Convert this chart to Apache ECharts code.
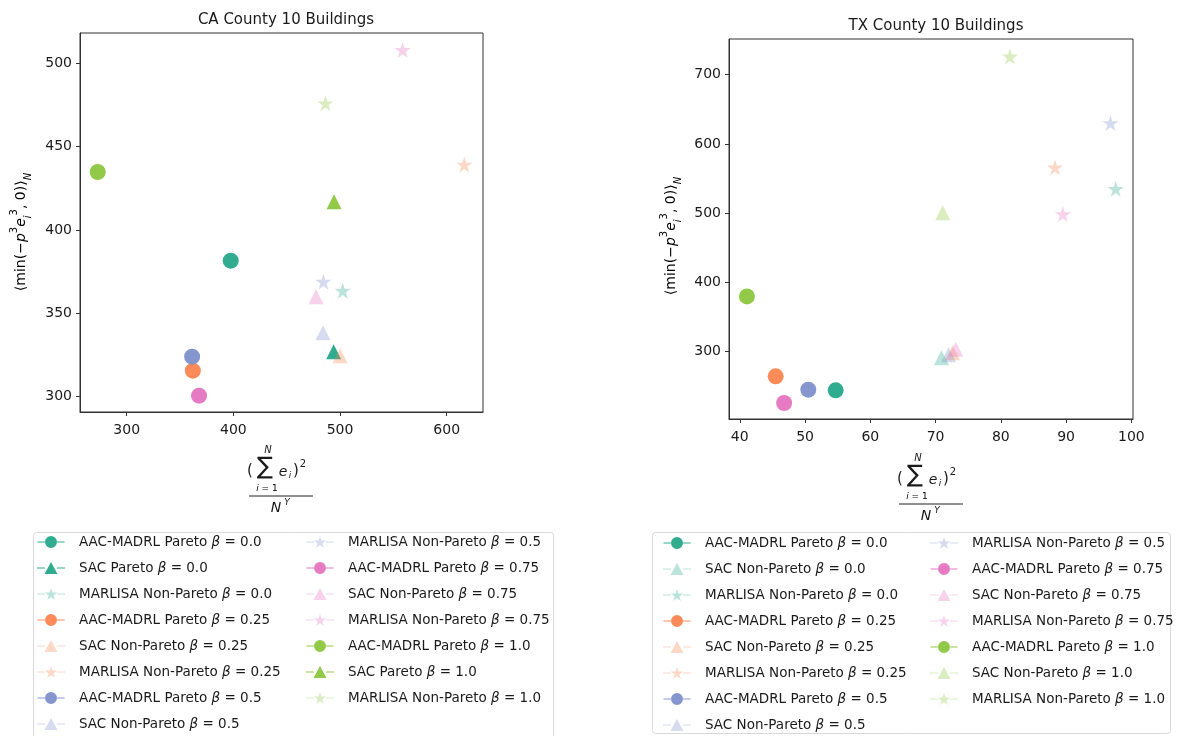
<!DOCTYPE html>
<html><head><meta charset="utf-8">
<script src="https://cdn.jsdelivr.net/npm/echarts@6/dist/echarts.min.js"></script>
<style>html,body{margin:0;padding:0;background:#fff}#c{width:1178px;height:736px}</style>
</head><body><div id="c"></div>
<script>
// ---------------- DATA ----------------
const caNames = [
  'AAC-MADRL Pareto β = 0.0', 'SAC Pareto β = 0.0', 'MARLISA Non-Pareto β = 0.0',
  'AAC-MADRL Pareto β = 0.25', 'SAC Non-Pareto β = 0.25', 'MARLISA Non-Pareto β = 0.25',
  'AAC-MADRL Pareto β = 0.5', 'SAC Non-Pareto β = 0.5', 'MARLISA Non-Pareto β = 0.5',
  'AAC-MADRL Pareto β = 0.75', 'SAC Non-Pareto β = 0.75', 'MARLISA Non-Pareto β = 0.75',
  'AAC-MADRL Pareto β = 1.0', 'SAC Pareto β = 1.0', 'MARLISA Non-Pareto β = 1.0'
];
const caX = [397.5, 494.0, 502.5, 362.0, 500.0, 616.5, 361.3, 484.0, 484.4, 367.8, 477.5, 558.7, 272.8, 494.4, 486.3];
const caY = [381.6, 327.0, 363.6, 315.6, 324.5, 439.2, 324.0, 338.4, 369.0, 300.6, 360.0, 508.0, 434.8, 417.0, 476.0];

const txNames = [
  'AAC-MADRL Pareto β = 0.0', 'SAC Non-Pareto β = 0.0', 'MARLISA Non-Pareto β = 0.0',
  'AAC-MADRL Pareto β = 0.25', 'SAC Non-Pareto β = 0.25', 'MARLISA Non-Pareto β = 0.25',
  'AAC-MADRL Pareto β = 0.5', 'SAC Non-Pareto β = 0.5', 'MARLISA Non-Pareto β = 0.5',
  'AAC-MADRL Pareto β = 0.75', 'SAC Non-Pareto β = 0.75', 'MARLISA Non-Pareto β = 0.75',
  'AAC-MADRL Pareto β = 1.0', 'SAC Non-Pareto β = 1.0', 'MARLISA Non-Pareto β = 1.0'
];
const txX = [54.7, 70.9, 97.6, 45.5, 72.6, 88.3, 50.5, 72.0, 96.8, 46.8, 73.1, 89.5, 41.1, 71.1, 81.4];
const txY = [243.7, 291.0, 535.0, 264.0, 298.0, 566.0, 244.7, 295.0, 630.0, 225.4, 303.0, 498.6, 379.5, 500.5, 726.3];

const caXTicks = [300, 400, 500, 600];
const caYTicks = [300, 350, 400, 450, 500];
const txXTicks = [40, 50, 60, 70, 80, 90, 100];
const txYTicks = [300, 400, 500, 600, 700];

const titles = ['CA County 10 Buildings', 'TX County 10 Buildings'];

// ---------------- STYLE ----------------
const FONT = 'DejaVu Sans';
const TXT = '#1a1a1a';
const betaColors = {'0.0': '#27a88a', '0.25': '#fc8550', '0.5': '#7e90cc', '0.75': '#e574c0', '1.0': '#8cc63e'};

function starPts(cx, cy, R) {
  const r = R * 0.382; let s = '';
  for (let k = 0; k < 10; k++) {
    const a = (-90 + k * 36) * Math.PI / 180, rr = k % 2 ? r : R;
    s += (k ? 'L' : 'M') + (cx + rr * Math.cos(a)).toFixed(3) + ',' + (cy + rr * Math.sin(a)).toFixed(3);
  }
  return s + 'Z';
}
const starSym = 'path://' + starPts(10, 10, 10);
const lineSeg = 'M0,5.5H8V6.5H0Z M20,5.5H28V6.5H20Z ';
const iconCircle = 'path://' + lineSeg + 'M7.8,6A6.2,6.2 0 1 0 20.2,6A6.2,6.2 0 1 0 7.8,6Z';
const iconTri = 'path://' + lineSeg + 'M14,0L20.5,12L7.5,12Z';
const iconStar = 'path://' + lineSeg + starPts(14, 6.5, 6.5);

function styleFor(name) {
  const algo = name.split(' ')[0];
  const beta = name.match(/β = ([\d.]+)/)[1];
  const np = name.indexOf('Non-Pareto') >= 0;
  return {
    color: betaColors[beta],
    opacity: np ? 0.32 : 0.95,
    symbol: algo === 'AAC-MADRL' ? 'circle' : (algo === 'SAC' ? 'triangle' : starSym),
    size: algo === 'AAC-MADRL' ? 16 : (algo === 'SAC' ? 15 : 16),
    icon: algo === 'AAC-MADRL' ? iconCircle : (algo === 'SAC' ? iconTri : iconStar)
  };
}

const series = [];
function addSeries(names, xs, ys, idx) {
  names.forEach((n, i) => {
    const st = styleFor(n);
    series.push({
      type: 'scatter', name: n, xAxisIndex: idx, yAxisIndex: idx,
      data: [[xs[i], ys[i]]], symbol: st.symbol, symbolSize: st.size,
      itemStyle: {color: st.color, opacity: st.opacity}, z: 2 + i * 0.01,
      emphasis: {disabled: true}
    });
  });
}
addSeries(caNames, caX, caY, 0);
addSeries(txNames, txX, txY, 1);

function legendCol(names, left, top) {
  return {
    orient: 'vertical', left: left, top: top, itemWidth: 28, itemHeight: 12, itemGap: 12,
    selectedMode: false, padding: 0,
    data: names.map(n => { const st = styleFor(n); return {name: n, icon: st.icon, itemStyle: {color: st.color, opacity: st.opacity}}; }),
    formatter: n => n.replace('β', '{b|β}'),
    textStyle: {fontFamily: FONT, fontSize: 13.5, color: TXT, lineHeight: 14, padding: [0, 0, 0, 9],
      rich: {b: {fontFamily: FONT, fontStyle: 'italic', fontSize: 13.5, color: TXT}}}
  };
}

const axisCommon = {
  axisLine: {show: true, onZero: false, lineStyle: {color: '#333', width: 1}},
  axisTick: {show: true, length: 4, lineStyle: {color: '#333'}},
  axisLabel: {fontFamily: FONT, fontSize: 14, color: TXT, margin: 8},
  splitLine: {show: false}
};
function ax(idx, min, max, ticks, margin) {
  return Object.assign({}, axisCommon, {type: 'value', gridIndex: idx, min: min, max: max,
    axisTick: Object.assign({}, axisCommon.axisTick, {customValues: ticks}),
    axisLabel: Object.assign({}, axisCommon.axisLabel, {customValues: ticks, margin: margin})});
}

const rich = {
  n: {fontFamily: FONT, fontSize: 14, color: TXT, lineHeight: 24, verticalAlign: 'middle'},
  i: {fontFamily: FONT, fontSize: 14, fontStyle: 'italic', color: TXT, lineHeight: 24, verticalAlign: 'middle'},
  sp: {fontFamily: FONT, fontSize: 10, color: TXT, lineHeight: 14, verticalAlign: 'top'},
  sb: {fontFamily: FONT, fontSize: 10, fontStyle: 'italic', color: TXT, lineHeight: 11, verticalAlign: 'bottom'}
};
const yLabelText = '{n|⟨min(−}{i|p}{sp|3}{i|e}{sb|i}{sp|3}{n|, 0)⟩}{sb|N}';

function t(x, y, text, size, italic) {
  return {type: 'text', x: x, y: y, silent: true,
    style: {text: text, fontFamily: FONT, fontSize: size, fontStyle: italic ? 'italic' : 'normal', fill: TXT, align: 'center', verticalAlign: 'middle'}};
}
function frac(cx, ly) {
  return [
    t(cx - 13, ly - 46, 'N', 10, true),
    t(cx - 31, ly - 25, '(', 15, false),
    t(cx - 16, ly - 28, '∑', 24, false),
    t(cx + 2, ly - 24, 'e', 14, true),
    t(cx + 9, ly - 20, 'i', 9, true),
    t(cx + 15, ly - 25, ')', 15, false),
    t(cx + 22, ly - 32, '2', 10, false),
    {type: 'text', x: cx - 14, y: ly - 7, silent: true, style: {text: '{a|i}{c| = 1}', align: 'center', verticalAlign: 'middle',
      rich: {a: {fontFamily: FONT, fontSize: 9, fontStyle: 'italic', color: TXT}, c: {fontFamily: FONT, fontSize: 9, color: TXT}}}},
    {type: 'line', silent: true, shape: {x1: cx - 32, y1: ly, x2: cx + 32, y2: ly}, style: {stroke: '#222', lineWidth: 1}},
    t(cx - 5, ly + 12, 'N', 14, true),
    t(cx + 6, ly + 7, 'Y', 9, true)
  ];
}

const graphic = [
  {type: 'rect', silent: true, shape: {x: 33.5, y: 532.5, width: 520, height: 230, r: 3}, style: {fill: '#fff', stroke: '#d9d9d9', lineWidth: 1}, z: -1},
  {type: 'rect', silent: true, shape: {x: 652.5, y: 532.5, width: 518, height: 201, r: 3}, style: {fill: '#fff', stroke: '#d9d9d9', lineWidth: 1}, z: -1},
  {type: 'text', x: 21, y: 232, rotation: Math.PI / 2, silent: true, style: {text: yLabelText, rich: rich, align: 'center', verticalAlign: 'middle'}},
  {type: 'text', x: 671, y: 236, rotation: Math.PI / 2, silent: true, style: {text: yLabelText, rich: rich, align: 'center', verticalAlign: 'middle'}}
].concat(frac(281, 496), frac(931, 504));

const option = {
  backgroundColor: '#fff',
  animation: false,
  title: [
    {text: titles[0], left: 281, top: 8, textAlign: 'center', textStyle: {fontFamily: FONT, fontSize: 15, fontWeight: 'normal', color: TXT}},
    {text: titles[1], left: 931, top: 14, textAlign: 'center', textStyle: {fontFamily: FONT, fontSize: 15, fontWeight: 'normal', color: TXT}}
  ],
  grid: [
    {left: 80, top: 33, width: 403, height: 379, show: true, borderColor: '#333', borderWidth: 1, backgroundColor: 'transparent'},
    {left: 729, top: 39, width: 404, height: 380, show: true, borderColor: '#333', borderWidth: 1, backgroundColor: 'transparent'}
  ],
  xAxis: [ax(0, 256.2, 634, caXTicks, 11), ax(1, 38.35, 100.25, txXTicks, 11)],
  yAxis: [ax(0, 290.8, 518.2, caYTicks, 8), ax(1, 202.3, 751.6, txYTicks, 8)],
  legend: [
    legendCol(caNames.slice(0, 8), 37, 535),
    legendCol(caNames.slice(8), 306, 535),
    legendCol(txNames.slice(0, 8), 663, 536),
    legendCol(txNames.slice(8), 930, 536)
  ],
  graphic: graphic,
  series: series
};
const chart = echarts.init(document.getElementById('c'), null, {renderer: 'canvas'});
chart.setOption(option);
</script>
</body></html>
